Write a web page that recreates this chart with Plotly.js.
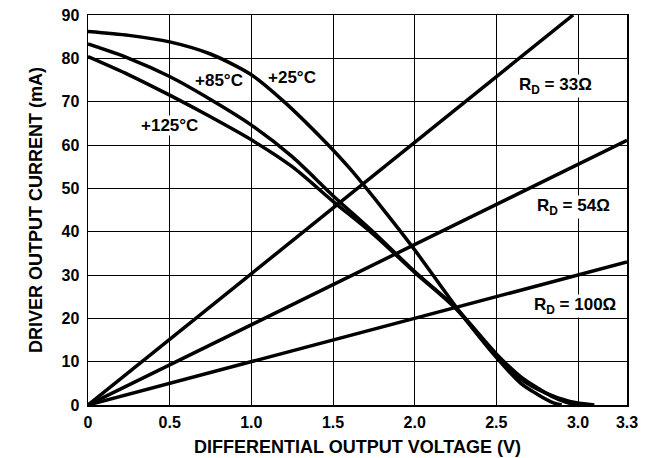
<!DOCTYPE html>
<html><head><meta charset="utf-8">
<script src="https://cdn.plot.ly/plotly-3.0.1.min.js"></script>
<style>html,body{margin:0;padding:0;background:#fff}#chart{width:654px;height:458px}</style>
</head><body><div id="chart"></div>
<script>
// Temperature curves: differential output voltage (V) vs driver output current (mA)
const v25  = [0, 0.25, 0.5, 0.75, 1.0, 1.2, 1.45, 1.6, 1.8, 2.0, 2.26, 2.5, 2.65, 2.75, 2.85, 2.9];
const i25  = [86.2, 85.3, 83.8, 81.0, 76.2, 70.0, 60.8, 54.7, 45.5, 35.8, 22.3, 11.0, 5.0, 2.5, 0.5, 0];
const v85  = [0, 0.25, 0.5, 0.75, 1.0, 1.25, 1.5, 1.75, 2.0, 2.25, 2.5, 2.65, 2.75, 2.85, 2.95, 3.05];
const i85  = [83.3, 80.0, 75.8, 70.5, 64.6, 57.3, 48.3, 39.8, 30.8, 22.5, 11.8, 6.5, 4.0, 1.8, 0.4, 0];
const v125 = [0, 0.25, 0.5, 0.75, 1.0, 1.25, 1.5, 1.75, 2.0, 2.25, 2.5, 2.65, 2.8, 2.95, 3.1];
const i125 = [80.4, 76.2, 71.5, 66.5, 61.2, 55.0, 47.0, 39.3, 30.6, 22.3, 11.3, 6.0, 2.8, 0.8, 0];
// Load lines
const vR33 = [0, 2.97],  iR33 = [0, 90];
const vR54 = [0, 3.3],   iR54 = [0, 61.1];
const vR100 = [0, 3.3],  iR100 = [0, 33];
// Axis ticks
const xTicks = [0, 0.5, 1.0, 1.5, 2.0, 2.5, 3.0, 3.3];
const xTickText = ["0", "0.5", "1.0", "1.5", "2.0", "2.5", "3.0", "3.3"];
const yTicks = [0, 10, 20, 30, 40, 50, 60, 70, 80, 90];
// Labels
const labelText = ["+25°C", "+85°C", "+125°C", "R<sub>D</sub> = 33Ω", "R<sub>D</sub> = 54Ω", "R<sub>D</sub> = 100Ω"];
const labelX = [1.25, 0.80, 0.50, 2.86, 2.97, 2.98];
const labelY = [75.5, 75.0, 64.6, 73.6, 45.7, 22.8];
const labelBg = [false, false, true, true, true, true];

const ln = {color: '#000', width: 3.5};
const mk = (x, y, name, shape) => ({x, y, name, type: 'scatter', mode: 'lines', line: Object.assign({}, ln, {shape: shape || 'linear', smoothing: 0.8}), hoverinfo: 'x+y'});
const data = [
  mk(v25, i25, '+25°C', 'spline'),
  mk(v85, i85, '+85°C', 'spline'),
  mk(v125, i125, '+125°C', 'spline'),
  mk(vR33, iR33, 'RD=33Ω'),
  mk(vR54, iR54, 'RD=54Ω'),
  mk(vR100, iR100, 'RD=100Ω')
];
const fam = 'Arial, "Liberation Sans", sans-serif';
const tickFont = {family: fam, size: 16, color: '#000', weight: 'bold'};
const titleFont = {family: fam, size: 18, color: '#000', weight: 'bold'};
const annFont = {family: fam, size: 17, color: '#000', weight: 'bold'};
const layout = {
  width: 654, height: 458,
  margin: {l: 88, r: 27, t: 15, b: 53},
  paper_bgcolor: '#fff', plot_bgcolor: '#fff',
  showlegend: false,
  font: tickFont,
  xaxis: {
    range: [0, 3.3], tickvals: xTicks, ticktext: xTickText,
    showgrid: true, gridcolor: '#000', gridwidth: 1,
    showline: true, linecolor: '#000', linewidth: 1.5, mirror: true,
    zeroline: false, ticks: '', ticklabelstandoff: 2,
    tickfont: tickFont,
    title: {text: 'DIFFERENTIAL OUTPUT VOLTAGE (V)', font: titleFont, standoff: 10}
  },
  yaxis: {
    range: [0, 90], tickvals: yTicks,
    showgrid: true, gridcolor: '#000', gridwidth: 1,
    showline: true, linecolor: '#000', linewidth: 1.5, mirror: true,
    zeroline: false, ticks: '', ticklabelstandoff: 4,
    tickfont: tickFont,
    title: {text: 'DRIVER OUTPUT CURRENT (mA)', font: titleFont, standoff: 14}
  },
  annotations: labelText.map((t, k) => ({
    x: labelX[k], y: labelY[k], xref: 'x', yref: 'y', text: t, showarrow: false,
    font: annFont, bgcolor: labelBg[k] ? '#fff' : 'rgba(0,0,0,0)', borderpad: 0
  }))
};
Plotly.newPlot('chart', data, layout, {displayModeBar: false, staticPlot: true});
</script></body></html>
